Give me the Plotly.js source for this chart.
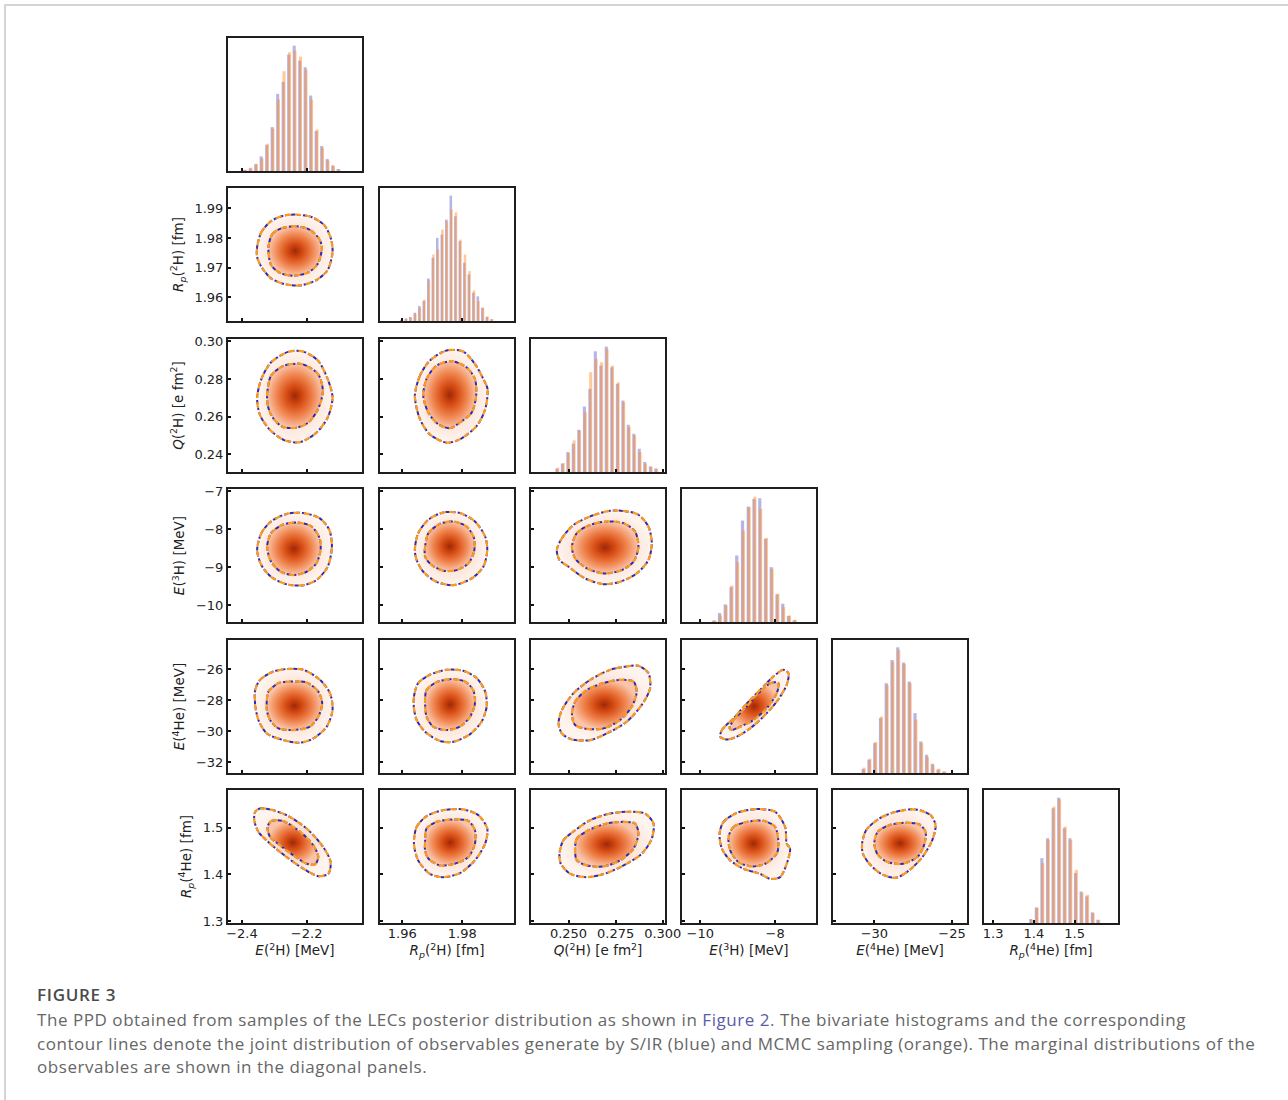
<!DOCTYPE html>
<html><head><meta charset="utf-8">
<script src="https://cdn.plot.ly/plotly-3.0.1.min.js"></script>
<style>
body{margin:0;background:#fff;}
#wrap{position:relative;width:1288px;height:1100px;overflow:hidden;background:#fff;}
#plot{position:absolute;left:0;top:0;width:1288px;height:1100px;}
#frame{position:absolute;left:4px;top:4px;width:1300px;height:1110px;border-left:2px solid #d4d4d4;border-top:2px solid #d4d4d4;pointer-events:none;}
#cap{position:absolute;left:37px;top:983px;font-family:'Open Sans',sans-serif;color:#666;font-size:17px;letter-spacing:0.55px;}
#cap .h{font-weight:600;color:#4a4a4a;line-height:24px;margin-bottom:1px;letter-spacing:0.7px;}
#cap .l{white-space:nowrap;line-height:23.5px;}
#cap a{color:#5a5ca8;text-decoration:none;}
</style></head>
<body><div id="wrap"><div id="plot"></div><div id="frame"></div>
<div id="cap"><div class="h">FIGURE 3</div>
<div class="l">The PPD obtained from samples of the LECs posterior distribution as shown in <a>Figure 2</a>. The bivariate histograms and the corresponding</div>
<div class="l">contour lines denote the joint distribution of observables generate by S/IR (blue) and MCMC sampling (orange). The marginal distributions of the</div>
<div class="l">observables are shown in the diagonal panels.</div></div></div>
<script>
// ---------- observables ----------
const observables = ['E(2H)', 'Rp(2H)', 'Q(2H)', 'E(3H)', 'E(4He)', 'Rp(4He)'];
const axisTitles = [
  '<i>E</i>(<sup>2</sup>H) [MeV]',
  '<i>R</i><sub><i>p</i></sub>(<sup>2</sup>H) [fm]',
  '<i>Q</i>(<sup>2</sup>H) [e fm<sup>2</sup>]',
  '<i>E</i>(<sup>3</sup>H) [MeV]',
  '<i>E</i>(<sup>4</sup>He) [MeV]',
  '<i>R</i><sub><i>p</i></sub>(<sup>4</sup>He) [fm]'
];
const xTickVals = [[-2.4, -2.2], [1.96, 1.98], [0.25, 0.275, 0.3], [-10, -8], [-30, -25], [1.3, 1.4, 1.5]];
const xTickFmt = ['.1f', '.2f', '.3f', 'd', 'd', '.1f'];
const yTickVals = [[], [1.96, 1.97, 1.98, 1.99], [0.24, 0.26, 0.28, 0.30], [-10, -9, -8, -7], [-32, -30, -28, -26], [1.3, 1.4, 1.5]];
const yTickFmt = ['', '.2f', '.2f', 'd', 'd', '.1f'];
const xRanges = [[-2.443, -2.029], [1.9526, 1.9972], [0.2301, 0.3012], [-10.488, -6.907], [-32.66, -24.04], [1.2775, 1.6067]];
const yRanges = [null, [1.952, 1.9969], [0.2305, 0.3013], [-10.45, -6.94], [-32.71, -24.1], [1.2966, 1.58]];

// ---------- marginal histograms (bin centres, S/IR counts, MCMC counts) ----------
const hist_E2H_centers = [-2.390,-2.373,-2.356,-2.339,-2.322,-2.305,-2.288,-2.271,-2.254,-2.237,-2.220,-2.203,-2.186,-2.169,-2.152,-2.135,-2.118,-2.101];
const hist_E2H_siir = [3,8,20,44,78,132,232,268,350,377,332,312,227,120,75,36,17,6];
const hist_E2H_mcmc = [4,10,22,38,82,127,215,300,357,362,344,305,215,125,70,32,15,5];

const hist_Rp2H_centers = [1.9598,1.9613,1.9628,1.9643,1.9658,1.9673,1.9688,1.9703,1.9718,1.9733,1.9748,1.9763,1.9778,1.9793,1.9808,1.9823,1.9838,1.9853,1.9868,1.9883,1.9898];
const hist_Rp2H_siir = [3,7,12,25,45,60,128,190,250,260,305,377,315,240,175,140,85,74,40,12,5];
const hist_Rp2H_mcmc = [4,8,10,22,40,64,122,200,215,275,300,335,327,245,200,150,92,60,40,14,6];

const hist_Q2H_centers = [0.2441,0.2470,0.2499,0.2528,0.2557,0.2587,0.2616,0.2645,0.2674,0.2703,0.2732,0.2762,0.2791,0.2820,0.2849,0.2878,0.2907,0.2937,0.2966];
const hist_Q2H_siir = [10,25,60,85,127,197,250,363,320,377,315,265,215,142,115,70,30,17,11];
const hist_Q2H_mcmc = [13,27,57,95,125,180,300,340,330,370,320,270,210,135,110,60,25,15,8];

const hist_E3H_centers = [-9.625,-9.471,-9.318,-9.164,-9.011,-8.857,-8.703,-8.550,-8.396,-8.243,-8.089,-7.936,-7.782,-7.628,-7.475];
const hist_E3H_siir = [4,27,53,105,200,305,347,370,372,250,165,83,55,18,5];
const hist_E3H_mcmc = [5,20,50,110,180,275,345,377,340,253,160,85,45,20,7];

const hist_E4He_centers = [-30.68,-30.31,-29.94,-29.57,-29.20,-28.83,-28.46,-28.09,-27.72,-27.35,-26.98,-26.61,-26.24,-25.87,-25.50];
const hist_E4He_siir = [12,40,90,165,270,340,378,332,275,180,95,55,28,10,4];
const hist_E4He_mcmc = [16,43,93,170,265,335,370,328,270,160,90,48,23,13,5];

const hist_Rp4He_centers = [1.3935,1.4073,1.4210,1.4348,1.4485,1.4623,1.4760,1.4898,1.5035,1.5173,1.5310,1.5448,1.5585];
const hist_Rp4He_siir = [12,47,195,255,345,377,285,255,150,95,80,32,10];
const hist_Rp4He_mcmc = [10,45,180,250,350,372,290,250,160,90,85,30,8];

// ---------- joint-distribution contour levels (outer / inner) ----------
const cont_Rp2H_E2H = {
  ox: [-2.353,-2.340,-2.310,-2.270,-2.230,-2.185,-2.145,-2.125,-2.120,-2.135,-2.170,-2.220,-2.270,-2.310,-2.340,-2.353],
  oy: [1.9770,1.9820,1.9857,1.9876,1.9879,1.9871,1.9843,1.9798,1.9753,1.9692,1.9658,1.9640,1.9645,1.9664,1.9703,1.9736],
  ix: [-2.318,-2.305,-2.275,-2.230,-2.190,-2.162,-2.153,-2.165,-2.195,-2.240,-2.280,-2.310],
  iy: [1.9770,1.9815,1.9834,1.9840,1.9828,1.9798,1.9770,1.9714,1.9684,1.9673,1.9681,1.9709]
};
const cont_Q2H_E2H = {
  ox: [-2.353,-2.340,-2.310,-2.255,-2.210,-2.165,-2.135,-2.120,-2.135,-2.170,-2.220,-2.270,-2.315,-2.345],
  oy: [0.2702,0.2800,0.2889,0.2946,0.2946,0.2898,0.2800,0.2702,0.2595,0.2514,0.2464,0.2475,0.2532,0.2612],
  ix: [-2.322,-2.310,-2.270,-2.215,-2.165,-2.150,-2.165,-2.195,-2.230,-2.275,-2.305,-2.320],
  iy: [0.2720,0.2818,0.2871,0.2880,0.2827,0.2738,0.2639,0.2568,0.2541,0.2546,0.2595,0.2657]
};
const cont_Q2H_Rp2H = {
  ox: [1.9642,1.9659,1.9692,1.9748,1.9803,1.9842,1.9870,1.9884,1.9876,1.9848,1.9792,1.9748,1.9692,1.9659],
  oy: [0.2711,0.2818,0.2898,0.2952,0.2946,0.2880,0.2800,0.2746,0.2639,0.2550,0.2479,0.2461,0.2505,0.2586],
  ix: [1.9670,1.9681,1.9714,1.9764,1.9814,1.9842,1.9846,1.9831,1.9792,1.9759,1.9720,1.9687],
  iy: [0.2711,0.2800,0.2871,0.2895,0.2862,0.2800,0.2711,0.2621,0.2568,0.2538,0.2559,0.2621]
};
const cont_E3H_E2H = {
  ox: [-2.353,-2.340,-2.310,-2.260,-2.210,-2.160,-2.130,-2.122,-2.135,-2.170,-2.210,-2.260,-2.310,-2.340],
  oy: [-8.549,-8.106,-7.796,-7.593,-7.575,-7.708,-8.018,-8.460,-8.991,-9.345,-9.478,-9.460,-9.257,-8.947],
  ix: [-2.322,-2.310,-2.275,-2.230,-2.185,-2.160,-2.157,-2.170,-2.200,-2.240,-2.280,-2.310],
  iy: [-8.460,-8.106,-7.885,-7.823,-7.929,-8.239,-8.549,-8.903,-9.124,-9.212,-9.124,-8.858]
};
const cont_E3H_Rp2H = {
  ox: [1.9642,1.9653,1.9687,1.9737,1.9792,1.9842,1.9876,1.9883,1.9870,1.9831,1.9770,1.9714,1.9670,1.9648],
  oy: [-8.549,-8.106,-7.752,-7.558,-7.575,-7.796,-8.195,-8.549,-8.991,-9.301,-9.478,-9.389,-9.124,-8.814],
  ix: [1.9676,1.9687,1.9726,1.9770,1.9814,1.9839,1.9839,1.9820,1.9781,1.9737,1.9698,1.9676],
  iy: [-8.460,-8.106,-7.858,-7.796,-7.929,-8.239,-8.593,-8.903,-9.080,-9.097,-8.947,-8.726]
};
const cont_E3H_Q2H = {
  ox: [0.2438,0.2465,0.2527,0.2615,0.2721,0.2809,0.2871,0.2924,0.2942,0.2924,0.2862,0.2774,0.2686,0.2588,0.2500,0.2452],
  oy: [-8.549,-8.239,-7.885,-7.664,-7.513,-7.531,-7.619,-7.929,-8.372,-8.814,-9.168,-9.389,-9.451,-9.301,-8.991,-8.814],
  ix: [0.2518,0.2544,0.2615,0.2712,0.2792,0.2853,0.2871,0.2845,0.2774,0.2686,0.2597,0.2535],
  iy: [-8.460,-8.106,-7.885,-7.796,-7.841,-8.062,-8.460,-8.858,-9.097,-9.168,-9.035,-8.770]
};
const cont_E4He_E2H = {
  ox: [-2.359,-2.344,-2.303,-2.262,-2.210,-2.159,-2.128,-2.120,-2.138,-2.179,-2.220,-2.272,-2.323,-2.349,-2.359],
  oy: [-27.33,-26.68,-26.14,-25.98,-26.03,-26.68,-27.54,-28.63,-29.71,-30.47,-30.75,-30.58,-30.15,-29.28,-28.30],
  ix: [-2.323,-2.318,-2.287,-2.251,-2.200,-2.164,-2.152,-2.164,-2.190,-2.241,-2.287,-2.313,-2.323],
  iy: [-27.98,-27.44,-26.89,-26.79,-26.85,-27.44,-28.20,-29.06,-29.71,-29.93,-29.82,-29.28,-28.63]
};
const cont_E4He_Rp2H = {
  ox: [1.9639,1.9653,1.9692,1.9748,1.9803,1.9848,1.9876,1.9881,1.9864,1.9826,1.9770,1.9726,1.9676,1.9648,1.9639],
  oy: [-27.76,-26.89,-26.35,-26.03,-26.09,-26.57,-27.44,-28.41,-29.39,-30.19,-30.69,-30.64,-30.04,-29.28,-28.52],
  ix: [1.9676,1.9681,1.9714,1.9764,1.9809,1.9836,1.9842,1.9826,1.9792,1.9748,1.9703,1.9681],
  iy: [-27.98,-27.33,-26.83,-26.63,-26.79,-27.33,-28.20,-29.06,-29.71,-29.93,-29.71,-29.06]
};
const cont_E4He_Q2H = {
  ox: [0.2447,0.2465,0.2527,0.2615,0.2721,0.2809,0.2871,0.2924,0.2933,0.2889,0.2809,0.2721,0.2615,0.2518,0.2465],
  oy: [-29.50,-28.63,-27.54,-26.68,-26.03,-25.81,-25.77,-26.24,-27.22,-28.30,-29.39,-30.04,-30.58,-30.54,-30.15],
  ix: [0.2518,0.2535,0.2597,0.2686,0.2774,0.2845,0.2862,0.2836,0.2774,0.2686,0.2597,0.2535],
  iy: [-28.95,-28.09,-27.33,-26.89,-26.68,-26.79,-27.44,-28.41,-29.28,-29.82,-29.86,-29.60]
};
const cont_E4He_E3H = {
  ox: [-9.467,-9.422,-9.111,-8.756,-8.400,-8.044,-7.778,-7.644,-7.689,-7.956,-8.311,-8.667,-9.022,-9.289],
  oy: [-30.36,-29.93,-29.17,-28.20,-27.33,-26.46,-26.03,-26.24,-27.00,-28.09,-29.06,-29.82,-30.36,-30.54],
  ix: [-9.218,-9.111,-8.800,-8.444,-8.089,-7.911,-7.956,-8.222,-8.578,-8.933,-9.156],
  iy: [-29.82,-29.28,-28.52,-27.54,-26.85,-26.89,-27.54,-28.52,-29.28,-29.71,-29.93]
};
const cont_Rp4He_E2H = {
  ox: [-2.359,-2.344,-2.313,-2.262,-2.200,-2.149,-2.126,-2.133,-2.164,-2.210,-2.262,-2.313,-2.349,-2.362],
  oy: [1.5336,1.5407,1.5386,1.5264,1.4979,1.4586,1.4264,1.4014,1.3964,1.4121,1.4371,1.4657,1.4907,1.5157],
  ix: [-2.321,-2.308,-2.272,-2.220,-2.179,-2.164,-2.174,-2.200,-2.241,-2.282,-2.313],
  iy: [1.5014,1.5143,1.5136,1.4907,1.4621,1.4371,1.4214,1.4229,1.4407,1.4621,1.4800]
};
const cont_Rp4He_Rp2H = {
  ox: [1.9639,1.9648,1.9681,1.9737,1.9803,1.9853,1.9883,1.9876,1.9842,1.9792,1.9737,1.9692,1.9653],
  oy: [1.4657,1.5014,1.5243,1.5371,1.5386,1.5264,1.4979,1.4657,1.4300,1.4029,1.3943,1.4014,1.4300],
  ix: [1.9676,1.9681,1.9714,1.9770,1.9820,1.9842,1.9842,1.9820,1.9775,1.9726,1.9687,1.9676],
  iy: [1.4693,1.4979,1.5121,1.5171,1.5143,1.4943,1.4657,1.4371,1.4229,1.4193,1.4336,1.4514]
};
const cont_Rp4He_Q2H = {
  ox: [0.2452,0.2473,0.2535,0.2615,0.2721,0.2827,0.2906,0.2951,0.2942,0.2889,0.2809,0.2703,0.2597,0.2509,0.2459],
  oy: [1.4443,1.4729,1.4943,1.5157,1.5300,1.5336,1.5300,1.5086,1.4764,1.4443,1.4229,1.4029,1.3943,1.4014,1.4229],
  ix: [0.2535,0.2544,0.2606,0.2703,0.2792,0.2853,0.2871,0.2845,0.2774,0.2686,0.2597,0.2544],
  iy: [1.4514,1.4764,1.4943,1.5086,1.5121,1.5086,1.4871,1.4550,1.4300,1.4171,1.4193,1.4300]
};
const cont_Rp4He_E3H = {
  ox: [-9.484,-9.378,-9.022,-8.489,-8.000,-7.733,-7.689,-7.600,-7.689,-7.867,-8.133,-8.400,-8.844,-9.200,-9.422],
  oy: [1.4871,1.5121,1.5314,1.5393,1.5336,1.5014,1.4657,1.4550,1.4229,1.3943,1.3907,1.4014,1.4121,1.4300,1.4550],
  ix: [-9.244,-9.111,-8.756,-8.311,-8.000,-7.911,-7.956,-8.267,-8.622,-8.978,-9.200],
  iy: [1.4800,1.5014,1.5121,1.5143,1.5014,1.4657,1.4443,1.4229,1.4171,1.4264,1.4514]
};
const cont_Rp4He_E4He = {
  ox: [-30.79,-30.53,-29.68,-28.62,-27.34,-26.38,-26.06,-26.28,-26.91,-27.77,-28.62,-29.57,-30.32,-30.74],
  oy: [1.4657,1.4943,1.5193,1.5336,1.5386,1.5264,1.5050,1.4729,1.4371,1.4086,1.3929,1.4014,1.4229,1.4443],
  ix: [-30.00,-29.79,-29.04,-28.09,-27.13,-26.70,-26.81,-27.23,-28.19,-29.15,-29.79],
  iy: [1.4657,1.4907,1.5050,1.5100,1.5071,1.4907,1.4621,1.4371,1.4229,1.4264,1.4429]
};

// ---------- assemble ----------
const histograms = [
  {c: hist_E2H_centers, s: hist_E2H_siir, m: hist_E2H_mcmc},
  {c: hist_Rp2H_centers, s: hist_Rp2H_siir, m: hist_Rp2H_mcmc},
  {c: hist_Q2H_centers, s: hist_Q2H_siir, m: hist_Q2H_mcmc},
  {c: hist_E3H_centers, s: hist_E3H_siir, m: hist_E3H_mcmc},
  {c: hist_E4He_centers, s: hist_E4He_siir, m: hist_E4He_mcmc},
  {c: hist_Rp4He_centers, s: hist_Rp4He_siir, m: hist_Rp4He_mcmc}
];
const contours = {
  '1,0': cont_Rp2H_E2H,
  '2,0': cont_Q2H_E2H, '2,1': cont_Q2H_Rp2H,
  '3,0': cont_E3H_E2H, '3,1': cont_E3H_Rp2H, '3,2': cont_E3H_Q2H,
  '4,0': cont_E4He_E2H, '4,1': cont_E4He_Rp2H, '4,2': cont_E4He_Q2H, '4,3': cont_E4He_E3H,
  '5,0': cont_Rp4He_E2H, '5,1': cont_Rp4He_Rp2H, '5,2': cont_Rp4He_Q2H, '5,3': cont_Rp4He_E3H, '5,4': cont_Rp4He_E4He
};

const W = 1288, H = 1100;
const colLeft = [228, 380, 531, 682, 833, 984];
const rowTop = [38, 188, 339, 489, 640, 790];
const PW = 134, PH = 133;
const BLUE = '#2b2bbb', ORANGE = '#fb9a22';
const FONT = 'DejaVu Sans, sans-serif';

const layout = {
  width: W, height: H, margin: {l: 0, r: 0, t: 0, b: 0},
  paper_bgcolor: 'rgba(0,0,0,0)', plot_bgcolor: '#fff',
  showlegend: false, barmode: 'overlay', hovermode: false,
  font: {family: FONT, size: 13, color: '#222'}
};
const traces = [];
const closeLoop = a => a.concat([a[0]]);

let n = 0;
for (let r = 0; r < 6; r++) {
  for (let c = 0; c <= r; c++) {
    n++;
    const sfx = n > 1 ? String(n) : '';
    const xr = 'x' + sfx, yr = 'y' + sfx;
    const diag = r === c;
    const common = {
      showline: true, mirror: true, linecolor: '#1e1e1e', linewidth: 2,
      ticks: 'inside', ticklen: 3, tickwidth: 2, tickcolor: '#111',
      showgrid: false, zeroline: false, fixedrange: true,
      tickfont: {family: FONT, size: 13, color: '#222'}
    };
    const xa = Object.assign({}, common, {
      domain: [colLeft[c] / W, (colLeft[c] + PW) / W], anchor: yr,
      range: xRanges[c], tickmode: 'array', tickvals: xTickVals[c], tickformat: xTickFmt[c],
      showticklabels: r === 5, ticklabelstandoff: -3
    });
    if (r === 5) xa.title = {text: axisTitles[c], font: {family: FONT, size: 13.5, color: '#222'}, standoff: 3};
    layout['xaxis' + sfx] = xa;
    const ya = Object.assign({}, common, {
      domain: [1 - (rowTop[r] + PH) / H, 1 - rowTop[r] / H], anchor: xr,
      range: diag ? [0, 400] : yRanges[r], tickmode: 'array',
      tickvals: diag ? [] : yTickVals[r], tickformat: yTickFmt[r],
      showticklabels: !diag && c === 0
    });
    if (!diag && c === 0) ya.title = {text: axisTitles[r], font: {family: FONT, size: 13.5, color: '#222'}, standoff: 8};
    layout['yaxis' + sfx] = ya;

    if (diag) {
      const h = histograms[c];
      const bw = h.c[1] - h.c[0];
      traces.push({type: 'bar', x: h.c, y: h.s, xaxis: xr, yaxis: yr, width: bw * 0.56, offset: -bw * 0.37,
        marker: {color: 'rgba(90,90,200,0.45)', line: {width: 0}}, name: 'S/IR'});
      traces.push({type: 'bar', x: h.c, y: h.m, xaxis: xr, yaxis: yr, width: bw * 0.56, offset: -bw * 0.22,
        marker: {color: 'rgba(255,140,40,0.47)', line: {width: 0}}, name: 'MCMC'});
    } else {
      const k = contours[r + ',' + c];
      const ox = closeLoop(k.ox), oy = closeLoop(k.oy), ix = closeLoop(k.ix), iy = closeLoop(k.iy);
      // outer level (filled pale) with S/IR line
      traces.push({type: 'scatter', mode: 'lines', x: ox, y: oy, xaxis: xr, yaxis: yr,
        fill: 'toself', fillcolor: 'rgba(250,230,218,0.85)',
        fillgradient: {type: 'radial', colorscale: [[0, 'rgb(247,205,182)'], [1, 'rgb(254,244,238)']]},
        line: {color: BLUE, width: 2, dash: '4px,2px', shape: 'spline', smoothing: 0.8}});
      // inner level (filled density core) with S/IR line
      traces.push({type: 'scatter', mode: 'lines', x: ix, y: iy, xaxis: xr, yaxis: yr,
        fill: 'toself', fillcolor: 'rgb(236,120,60)',
        fillgradient: {type: 'radial', colorscale: [[0, 'rgb(160,40,6)'], [0.3, 'rgb(214,76,20)'], [0.65, 'rgb(240,132,78)'], [1, 'rgb(249,196,168)']]},
        line: {color: BLUE, width: 2, dash: '4px,2px', shape: 'spline', smoothing: 0.8}});
      // MCMC lines on top
      traces.push({type: 'scatter', mode: 'lines', x: ox, y: oy, xaxis: xr, yaxis: yr,
        line: {color: ORANGE, width: 2.2, dash: '6px,4px', shape: 'spline', smoothing: 0.8}});
      traces.push({type: 'scatter', mode: 'lines', x: ix, y: iy, xaxis: xr, yaxis: yr,
        line: {color: ORANGE, width: 2.2, dash: '6px,4px', shape: 'spline', smoothing: 0.8}});
    }
  }
}

Plotly.newPlot('plot', traces, layout, {staticPlot: true, displayModeBar: false});
</script>
</body></html>
